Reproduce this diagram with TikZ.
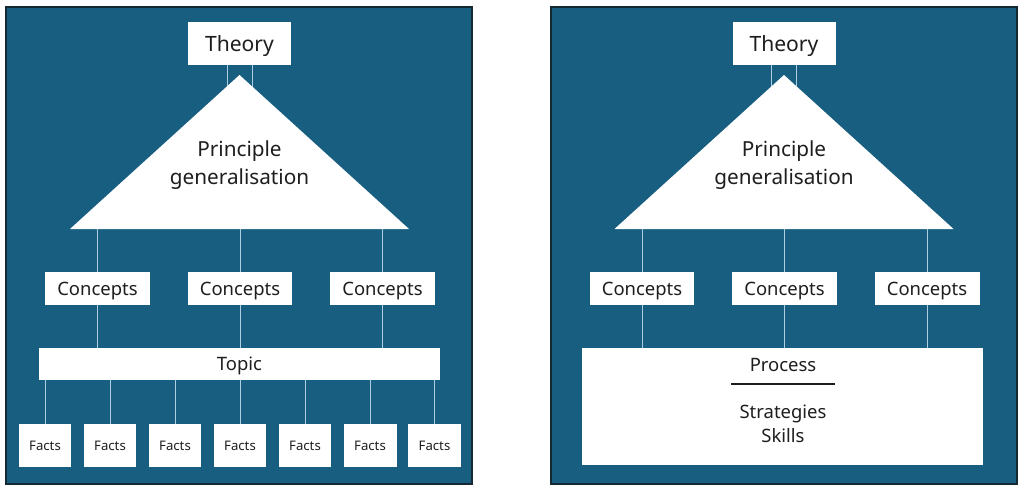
\documentclass[tikz,border=0pt]{standalone}
\usepackage{fontspec}
\setmainfont{Noto Sans}
\usetikzlibrary{positioning}
\definecolor{panelblue}{RGB}{23,94,128}
\definecolor{paneledge}{RGB}{22,40,50}
\definecolor{linkblue}{RGB}{175,205,222}
\definecolor{textgray}{RGB}{30,30,30}

\begin{document}
\begin{tikzpicture}[x=0.02cm,y=-0.02cm,
  panel/.style={fill=panelblue,draw=paneledge,line width=1pt},
  box/.style={rectangle,fill=white,inner sep=0pt,text=textgray,align=center,text depth=0pt},
  theorybox/.style={box,minimum width=2.06cm,minimum height=0.86cm,font=\fontsize{12}{14}\selectfont},
  conceptbox/.style={box,minimum width=2.1cm,minimum height=0.66cm,font=\fontsize{10.5}{12.5}\selectfont},
  factbox/.style={box,minimum width=1.06cm,minimum height=0.86cm,font=\fontsize{7.5}{9}\selectfont},
  label/.style={text=textgray,align=center,inner sep=0pt},
  link/.style={draw=linkblue,line width=0.5pt},
]
\useasboundingbox (0,0) rectangle (1024,490);

% the two panels
\draw[panel] (6,7) rectangle (472,484);
\draw[panel] (551,7) rectangle (1017,484);

% top half, same in both panels
\foreach \p/\dx in {L/0,R/544.5}{
  \begin{scope}[shift={(\dx,0)}]
    \node[theorybox] (theory\p) at (239.5,43.5) {Theory};
    \draw[link] ([xshift=-0.25cm]theory\p.south) -- ++(0,40);
    \draw[link] ([xshift=0.25cm]theory\p.south) -- ++(0,40);
    \fill[white] (239.5,75) coordinate (apex\p) -- (70,229) coordinate (baseW\p)
      -- (409,229) coordinate (baseE\p) -- cycle;
    \node[label,font=\fontsize{11.8}{16}\selectfont] (principle\p) at (239.5,165)
      {Principle\\generalisation};
    \node[conceptbox] (conceptA\p) at (97.5,288.5) {Concepts};
    \node[conceptbox] (conceptB\p) at (240,288.5) {Concepts};
    \node[conceptbox] (conceptC\p) at (382.5,288.5) {Concepts};
    \foreach \c in {A,B,C}
      \draw[link] (concept\c\p.north) -- (concept\c\p.north |- baseW\p);
  \end{scope}
}

% left: topic and facts
\node[box,minimum width=8.02cm,minimum height=0.64cm,font=\fontsize{10.5}{12.5}\selectfont]
  (topic) at (239.5,364) {Topic};
\foreach \c in {A,B,C}
  \draw[link] (concept\c L.south) -- (concept\c L.south |- topic.north);
\foreach \i/\fx in {1/45,2/110,3/175,4/240,5/305,6/370,7/434.5}{
  \node[factbox] (fact\i) at (\fx,445.5) {Facts};
  \draw[link] (fact\i.north) -- (fact\i.north |- topic.south);
}

% right: process
\node[box,minimum width=8.02cm,minimum height=2.34cm] (process) at (782.5,406.5) {};
\foreach \c in {A,B,C}
  \draw[link] (concept\c R.south) -- (concept\c R.south |- process.north);
\node[label,font=\fontsize{10.5}{12.5}\selectfont] (processlabel) at (783,365) {Process};
\draw[textgray,line width=0.6pt] (731,384) -- (835,384);
\node[label,font=\fontsize{10.5}{13.6}\selectfont] (skills) at (783,424) {Strategies\\Skills};
\end{tikzpicture}
\end{document}
